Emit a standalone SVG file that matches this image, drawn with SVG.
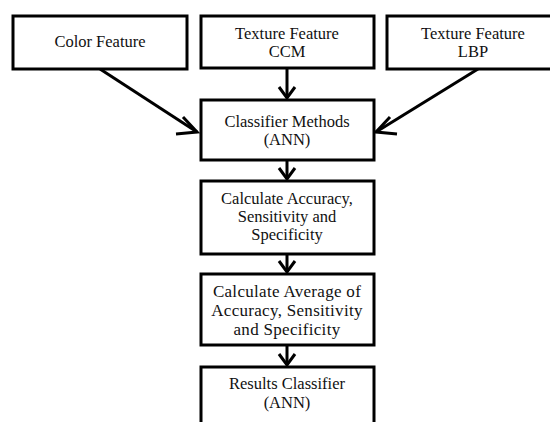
<svg xmlns="http://www.w3.org/2000/svg" width="550" height="422" viewBox="0 0 550 422">
<style>
.box{fill:#fff;stroke:#000;stroke-width:3}
.t{font-family:"Liberation Serif","Times New Roman",serif;font-size:16.5px;fill:#111;text-anchor:middle}
.big{font-size:17px;letter-spacing:0.3px}
.c{stroke:#000;stroke-width:3;fill:none}
.h{stroke:#000;stroke-width:3;fill:none;stroke-linecap:butt}
</style>
<rect width="550" height="422" fill="#fff"/>
<g id="connectors">
<line class="c" x1="100" y1="69" x2="197" y2="132"/>
<polyline class="h" points="183,117 197,132 176,134"/>
<line class="c" x1="478" y1="69" x2="376" y2="132"/>
<polyline class="h" points="390,117 376,132 397,134"/>
<line class="c" x1="287" y1="68" x2="287" y2="98"/>
<polyline class="h" points="279,87 287,98 295,87"/>
<line class="c" x1="287" y1="160" x2="287" y2="179"/>
<polyline class="h" points="279,168 287,179 295,168"/>
<line class="c" x1="287" y1="254" x2="287" y2="272"/>
<polyline class="h" points="279,261 287,272 295,261"/>
<line class="c" x1="287" y1="345" x2="287" y2="365"/>
<polyline class="h" points="279,354 287,365 295,354"/>
</g>
<g id="color">
<rect class="box" x="13" y="16" width="174" height="53"/>
<text class="t" x="100" y="47">Color Feature</text>
</g>
<g id="ccm">
<rect class="box" x="201" y="16" width="173" height="52"/>
<text class="t" x="287" y="39">Texture Feature</text>
<text class="t" x="287" y="57">CCM</text>
</g>
<g id="lbp">
<rect class="box" x="387" y="16" width="170" height="53"/>
<text class="t" x="473" y="39">Texture Feature</text>
<text class="t" x="473" y="57">LBP</text>
</g>
<g id="classifier">
<rect class="box" x="201" y="100" width="173" height="60"/>
<text class="t" x="287" y="127">Classifier Methods</text>
<text class="t" x="287" y="145">(ANN)</text>
</g>
<g id="accuracy">
<rect class="box" x="201" y="181" width="173" height="73"/>
<text class="t" x="287" y="204">Calculate Accuracy,</text>
<text class="t" x="287" y="222">Sensitivity and</text>
<text class="t" x="287" y="240">Specificity</text>
</g>
<g id="average">
<rect class="box" x="201" y="274" width="173" height="71"/>
<text class="t big" x="287" y="297">Calculate Average of</text>
<text class="t big" x="287" y="316">Accuracy, Sensitivity</text>
<text class="t big" x="287" y="335">and Specificity</text>
</g>
<g id="results">
<rect class="box" x="201" y="367" width="173" height="70"/>
<text class="t" x="287" y="389">Results Classifier</text>
<text class="t" x="287" y="408">(ANN)</text>
</g>
</svg>
